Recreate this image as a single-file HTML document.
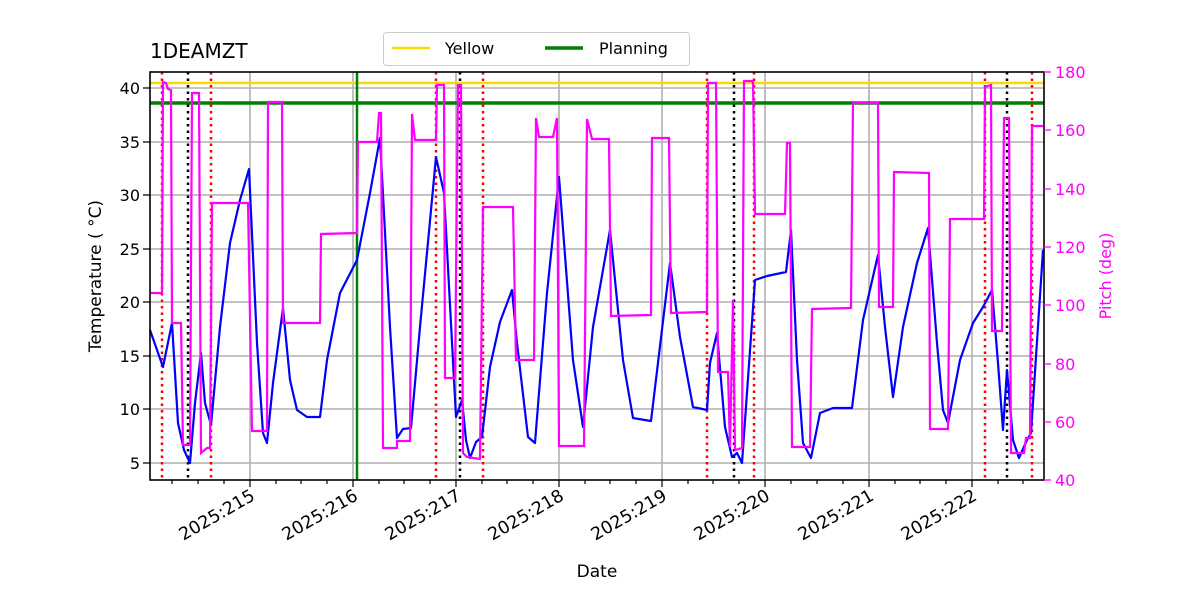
<!DOCTYPE html>
<html><head><meta charset="utf-8"><style>body{margin:0;background:#fff}svg{display:block;font-family:"DejaVu Sans","Liberation Sans",sans-serif}</style></head><body>
<svg width="1200" height="600" viewBox="0 0 1200 600" xmlns="http://www.w3.org/2000/svg">
<rect width="1200" height="600" fill="#fff"/>
<g stroke="#b0b0b0" stroke-width="1.6">
<line x1="250" y1="72" x2="250" y2="480"/><line x1="353" y1="72" x2="353" y2="480"/><line x1="456" y1="72" x2="456" y2="480"/><line x1="559" y1="72" x2="559" y2="480"/><line x1="662" y1="72" x2="662" y2="480"/><line x1="765" y1="72" x2="765" y2="480"/><line x1="869" y1="72" x2="869" y2="480"/><line x1="972" y1="72" x2="972" y2="480"/>
<line x1="150" y1="88" x2="1044" y2="88"/><line x1="150" y1="142" x2="1044" y2="142"/><line x1="150" y1="195" x2="1044" y2="195"/><line x1="150" y1="249" x2="1044" y2="249"/><line x1="150" y1="302" x2="1044" y2="302"/><line x1="150" y1="356" x2="1044" y2="356"/><line x1="150" y1="409" x2="1044" y2="409"/><line x1="150" y1="463" x2="1044" y2="463"/>
</g>
<line x1="150" y1="83" x2="1044" y2="83" stroke="#ffd700" stroke-width="2.5"/>
<line x1="150" y1="103" x2="1044" y2="103" stroke="#008000" stroke-width="3.5"/>
<line x1="357" y1="72" x2="357" y2="480" stroke="#008000" stroke-width="2.5"/>
<g stroke="#f00" stroke-width="2.5" stroke-dasharray="2.5,4">
<line x1="162" y1="72" x2="162" y2="480"/><line x1="211" y1="72" x2="211" y2="480"/><line x1="436" y1="72" x2="436" y2="480"/><line x1="483" y1="72" x2="483" y2="480"/><line x1="707" y1="72" x2="707" y2="480"/><line x1="754" y1="72" x2="754" y2="480"/><line x1="985" y1="72" x2="985" y2="480"/><line x1="1032" y1="72" x2="1032" y2="480"/>
</g>
<g stroke="#000" stroke-width="2.5" stroke-dasharray="2.5,4">
<line x1="188" y1="72" x2="188" y2="480"/><line x1="460" y1="72" x2="460" y2="480"/><line x1="734" y1="72" x2="734" y2="480"/><line x1="1007" y1="72" x2="1007" y2="480"/>
</g>
<polyline fill="none" stroke="#0000ff" stroke-width="2.2" stroke-linejoin="round" points="150,330 163,367 172,323 178,423 184,450 190,463 195,403 201,353 205,403 211,425 220,327 230,243 240,200 249,169 257,343 263,433 267,443 273,383 283,308 290,380 297,410 307,417 320,417 327,360 340,293 357,260 370,193 380,138 390,327 397,438 403,429 411,428 420,327 436,157 444,193 456,417 462,400 466,440 470,458 476,442 482,437 490,367 500,322 512,290 517,343 528,437 535,443 547,293 559,177 573,360 583,427 593,327 610,230 623,360 633,418 651,421 670,263 680,337 693,407 707,410 710,363 717,333 725,427 732,457 737,453 742,463 755,280 767,276 786,272 791,230 797,360 803,443 811,458 820,413 833,408 852,408 863,320 878,255 885,327 893,397 903,327 917,263 928,228 937,343 943,410 948,423 960,360 973,323 983,307 992,290 998,363 1003,430 1007,370 1013,440 1019,458 1027,440 1031,433 1043,250"/>
<polyline fill="none" stroke="#ff00ff" stroke-width="2.2" points="150,293 162,293 163,82 166,83 168,89 171,90 172,323 181,323 183,445 190,445 192,93 199,93 201,453 207,448 210,448 212,203 248,203 252,431 267,431 268,102 282,102 283,323 320,323 321,234 357,233 358,142 377,142 379,113 381,113 383,448 397,448 397,441 410,441 412,114 415,140 436,140 437,85 444,85 445,378 455,378 458,85 461,85 463,453 467,457 480,459 483,207 513,207 516,360 534,360 536,118 539,137 553,137 557,118 559,446 584,446 587,119 592,139 609,139 611,316 651,315 652,138 669,138 671,313 707,312 708,83 716,83 718,372 728,372 730,447 733,300 735,450 742,448 744,81 753,81 755,214 785,214 787,143 790,143 792,447 810,447 812,309 851,308 853,103 878,103 879,307 893,307 894,172 929,173 930,429 948,429 950,219 984,219 985,87 991,85 992,331 1002,331 1004,118 1009,118 1011,453 1024,453 1026,438 1030,438 1032,126 1043,126"/>
<rect x="150" y="72" width="894" height="408" fill="none" stroke="#000" stroke-width="1.6"/>
<g stroke="#000" stroke-width="1.2">
<line x1="250" y1="480" x2="250" y2="487"/><line x1="353" y1="480" x2="353" y2="487"/><line x1="456" y1="480" x2="456" y2="487"/><line x1="559" y1="480" x2="559" y2="487"/><line x1="662" y1="480" x2="662" y2="487"/><line x1="765" y1="480" x2="765" y2="487"/><line x1="869" y1="480" x2="869" y2="487"/><line x1="972" y1="480" x2="972" y2="487"/>
<path d="M172 480v4M198 480v4M224 480v4M276 480v4M301 480v4M327 480v4M379 480v4M404 480v4M430 480v4M482 480v4M507 480v4M533 480v4M585 480v4M610 480v4M636 480v4M688 480v4M713 480v4M739 480v4M791 480v4M817 480v4M843 480v4M895 480v4M920 480v4M946 480v4M998 480v4M1023 480v4"/>
<path d="M150 88h-7M150 142h-7M150 195h-7M150 249h-7M150 302h-7M150 356h-7M150 409h-7M150 463h-7"/>
</g>
<g stroke="#ff00ff" stroke-width="1.2"><path d="M1044 72h7M1044 130h7M1044 189h7M1044 247h7M1044 305h7M1044 364h7M1044 422h7M1044 480h7"/></g>
<g font-size="16" text-anchor="end" fill="#000">
<text x="140" y="94">40</text><text x="140" y="148">35</text><text x="140" y="201">30</text><text x="140" y="255">25</text><text x="140" y="308">20</text><text x="140" y="362">15</text><text x="140" y="415">10</text><text x="140" y="469">5</text>
</g>
<g font-size="16" fill="#ff00ff">
<text x="1055" y="78">180</text><text x="1055" y="136">160</text><text x="1055" y="195">140</text><text x="1055" y="253">120</text><text x="1055" y="311">100</text><text x="1055" y="370">80</text><text x="1055" y="428">60</text><text x="1055" y="486">40</text>
<text transform="translate(1111,276) rotate(-90)" text-anchor="middle">Pitch (deg)</text>
</g>
<g font-size="17.5" text-anchor="end" fill="#000">
<text transform="translate(256,499) rotate(-30)">2025:215</text><text transform="translate(359,499) rotate(-30)">2025:216</text><text transform="translate(462,499) rotate(-30)">2025:217</text><text transform="translate(565,499) rotate(-30)">2025:218</text><text transform="translate(668,499) rotate(-30)">2025:219</text><text transform="translate(771,499) rotate(-30)">2025:220</text><text transform="translate(875,499) rotate(-30)">2025:221</text><text transform="translate(978,499) rotate(-30)">2025:222</text>
</g>
<text x="597" y="577" font-size="17" text-anchor="middle">Date</text>
<text transform="translate(101,276) rotate(-90)" font-size="17" text-anchor="middle">Temperature ( °C)</text>
<text x="150" y="58" font-size="20">1DEAMZT</text>
<rect x="383.5" y="32.5" width="306" height="33" rx="3" fill="#fff" stroke="#ccc"/>
<line x1="392" y1="48" x2="430" y2="48" stroke="#ffd700" stroke-width="2.5"/>
<text x="445" y="54" font-size="16">Yellow</text>
<line x1="545" y1="48" x2="583" y2="48" stroke="#008000" stroke-width="3.5"/>
<text x="599" y="54" font-size="16">Planning</text>
</svg>
</body></html>
